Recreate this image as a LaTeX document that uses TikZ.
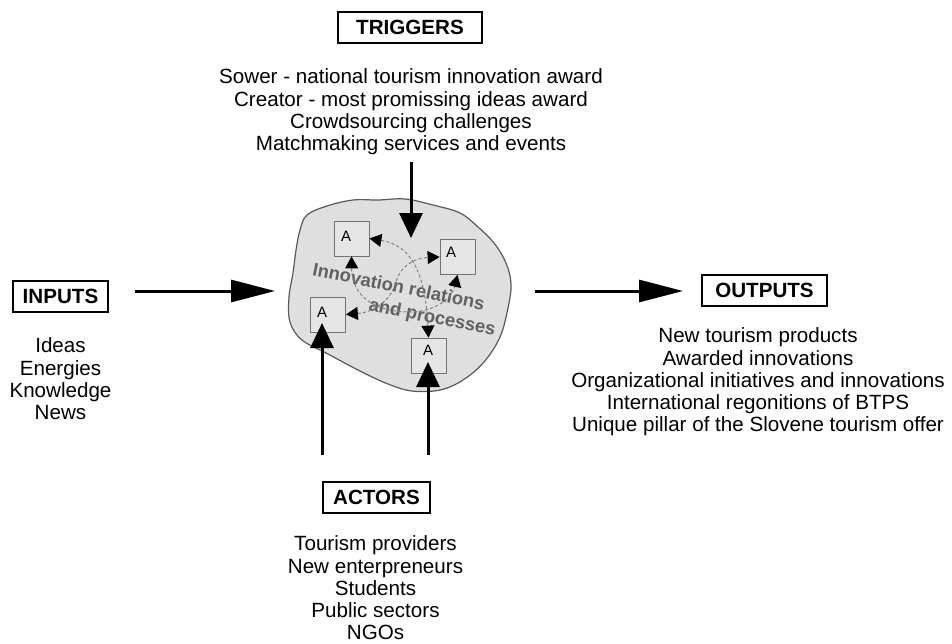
\documentclass[tikz,border=0pt]{standalone}
\usepackage{fontspec}
\setmainfont{Liberation Sans}
\usetikzlibrary{arrows.meta}
\tikzset{
  hdr/.style={draw,line width=1.2pt,font=\bfseries\fontsize{10.3}{12}\selectfont,minimum height=15.5pt,inner sep=0pt},
  lst/.style={align=center,inner sep=0pt,font=\fontsize{10.3}{11.15}\selectfont},
  abox/.style={draw=black!55,fill=gray!20,minimum size=17.5pt,inner sep=0pt},
  alab/.style={inner sep=0pt,font=\fontsize{7.5}{9}\selectfont},
  inno/.style={inner sep=0pt,text=black!62,align=left,font=\bfseries\fontsize{9.2}{11.5}\selectfont},
  bigarrow/.style={line width=1.5pt,-{Triangle[length=12.5pt,width=11.5pt]}},
  longarrow/.style={line width=1.5pt,-{Triangle[length=22pt,width=11pt]}},
  rel/.style={draw=black!50,line width=0.5pt,dash pattern=on 1.6pt off 1.1pt,
    {Triangle[length=6pt,width=6.5pt,color=black]}-{Triangle[length=6pt,width=6.5pt,color=black]}},
}
\begin{document}
\begin{tikzpicture}[x=0.5pt,y=-0.5pt]
  \useasboundingbox (0,0) rectangle (952,643);
  % cloud
  \draw[black!65,fill=gray!25,line width=0.6pt] plot[smooth cycle,tension=0.6] coordinates {
    (307,215) (327,206) (353,200) (378,200) (405,199) (433,205) (460,213)
    (478,227) (494,243) (506,263) (511,284) (508,308) (500,337) (484,362)
    (463,380) (440,390) (412,391) (388,384) (360,371) (328,354) (302,340)
    (290,322) (289,297) (293,273) (296,250) (300,230)};
  % actors in the cloud
  \node[abox] (a1) at (351.5,238.5) {};
  \node[abox] (a2) at (457.5,257) {};
  \node[abox] (a3) at (328,314.5) {};
  \node[abox] (a4) at (428.5,355.5) {};
  \node[alab] (la1) at (346,236) {A};
  \node[alab] (la2) at (451,252) {A};
  \node[alab] (la3) at (322,312) {A};
  \node[alab] (la4) at (428,350) {A};
  \node[inno,rotate=-11.5] (rel) at (404,301)
    {Innovation relations\\\hspace*{31pt}and processes};
  % relations
  \draw[rel] (a1.east) .. controls (410,245) and (425,270) .. (a4.north);
  \draw[rel] (a3.east) .. controls (375,312) and (390,300) .. (395,285)
    .. controls (400,265) and (415,258) .. (a2.west);
  \draw[rel] (a1.south) .. controls (352,300) and (380,312) .. (410,312)
    .. controls (435,312) and (452,298) .. (a2.south);
  % triggers
  \node[hdr,minimum width=72pt] (triggers) at (410,27.5) {TRIGGERS};
  \node[lst] (trigtext) at (411,112) {Sower - national tourism innovation award\\
    Creator - most promissing ideas award\\Crowdsourcing challenges\\
    Matchmaking services and events};
  \coordinate (t0) at (411,162);
  \coordinate (t1) at (411,238);
  \draw[bigarrow] (t0) -- (t1);
  % inputs
  \node[hdr,minimum width=47.5pt] (inputs) at (60.5,296.5) {INPUTS};
  \node[lst] (inptext) at (60.5,379) {Ideas\\Energies\\Knowledge\\News};
  \coordinate (i0) at (135,291);
  \coordinate (i1) at (275,291);
  \draw[longarrow] (i0) -- (i1);
  % outputs
  \node[hdr,minimum width=62.5pt] (outputs) at (764.5,290.5) {OUTPUTS};
  \node[lst] (outtext) at (758,382) {New tourism products\\Awarded innovations\\
    Organizational initiatives and innovations\\International regonitions of BTPS\\
    Unique pillar of the Slovene tourism offer};
  \coordinate (o0) at (535,291);
  \coordinate (o1) at (683,291);
  \draw[longarrow] (o0) -- (o1);
  % actors
  \node[hdr,minimum width=53.5pt] (actors) at (376.5,497.5) {ACTORS};
  \node[lst] (acttext) at (375.5,588) {Tourism providers\\New enterpreneurs\\
    Students\\Public sectors\\NGOs};
  \coordinate (c1) at (322,455);
  \coordinate (c2) at (428,455);
  \draw[bigarrow] (c1) -- (c1 |- 0,323);
  \draw[bigarrow] (c2) -- (c2 |- 0,362);
\end{tikzpicture}
\end{document}
